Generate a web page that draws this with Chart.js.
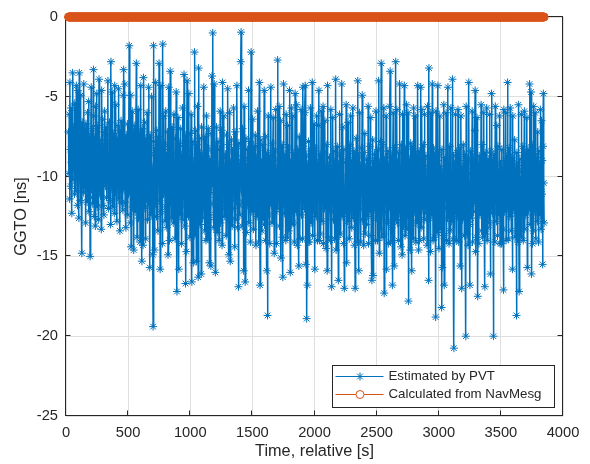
<!DOCTYPE html>
<html>
<head>
<meta charset="utf-8">
<title>GGTO</title>
<script src="https://cdn.jsdelivr.net/npm/chart.js@4.4.1/dist/chart.umd.min.js"></script>
<style>
    html, body { margin: 0; padding: 0; background: #fff; }
    #wrap { width: 590px; height: 464px; }
</style>
</head>
<body>
<div id="wrap"><canvas id="ggto" width="590" height="464"></canvas></div>
<script>
// Data (GGTO in ns, one sample every 3 s from t = 20 s)
const T_START = 20;
const T_STEP = 3;

const PVT_GGTO = [
    -7.2, -9.8, -6.1, -11.4, -4.1, -8.3, -10.6, -5.7, -9.1, -12.3, -7.9, -3.5, -10.2, -6.9, -8.7, -7.6, -11.1, -5.4, -9.5, -8.0,
    -10.9, -4.3, -8.4, -8.6, -11.8, -4.6, -9.2, -7.1, -12.6, -3.5, -9.7, -7.8, -11.5, -4.9, -10.3, -8.1, -14.8, -6.6, -9.0, -7.4,
    -11.0, -4.2, -9.4, -7.0, -10.7, -8.4, -12.9, -6.7, -9.9, -7.3, -11.6, -6.0, -8.9, -10.4, -5.3, -12.2, -7.5, -9.6, -15.0, -11.3,
    -8.2, -4.4, -10.8, -9.1, -7.0, -11.7, -9.3, -3.3, -6.2, -12.5, -9.0, -7.5, -13.1, -5.6, -10.5, -8.8, -4.8, -11.9, -8.5, -6.8,
    -12.7, -9.4, -3.9, -10.9, -7.7, -8.6, -11.2, -7.9, -13.3, -4.6, -9.1, -6.4, -10.1, -11.8, -8.3, -12.4, -7.2, -5.9, -9.6, -10.6,
    -8.1, -6.9, -11.3, -9.5, -7.4, -10.2, -4.0, -12.0, -8.7, -9.9, -6.6, -11.5, -7.8, -13.0, -2.8, -9.2, -10.7, -4.7, -8.4, -11.9,
    -7.3, -10.4, -9.0, -12.3, -4.3, -8.9, -11.0, -5.5, -9.7, -7.6, -12.8, -8.2, -10.1, -6.8, -4.5, -11.4, -9.3, -7.1, -13.4, -8.6,
    -10.3, -6.5, -9.2, -11.7, -7.9, -8.4, -12.1, -4.9, -3.3, -10.8, -9.0, -4.2, -11.6, -8.0, -13.2, -7.4, -9.8, -10.9, -6.7, -12.4,
    -8.8, -11.1, -7.5, -1.8, -10.6, -9.3, -12.9, -4.9, -14.4, -8.1, -10.7, -5.9, -11.9, -9.6, -7.2, -14.6, -8.7, -10.0, -6.8, -12.2,
    -9.4, -7.7, -2.9, -11.3, -13.8, -8.5, -10.2, -5.8, -12.6, -9.0, -7.3, -11.0, -14.1, -8.9, -4.3, -10.8, -9.7, -15.3, -7.0, -10.4,
    -14.3, -3.8, -9.1, -12.0, -6.6, -10.9, -8.3, -13.9, -7.6, -11.4, -9.8, -6.0, -12.7, -8.0, -10.5, -4.4, -11.8, -9.2, -15.7, -7.4,
    -10.1, -8.6, -12.4, -5.0, -11.2, -9.5, -14.9, -19.4, -1.8, -7.8, -10.6, -14.6, -8.2, -11.7, -4.1, -9.9, -12.5, -7.1, -10.3, -8.9,
    -13.4, -7.5, -10.0, -2.9, -11.5, -8.4, -15.8, -9.6, -4.3, -12.2, -10.8, -7.9, -14.2, -1.7, -9.3, -11.1, -6.2, -10.4, -8.0, -12.8,
    -9.0, -5.9, -11.9, -8.7, -13.2, -10.3, -7.2, -14.9, -9.4, -4.4, -10.9, -14.0, -8.3, -3.4, -11.6, -7.7, -12.6, -9.8, -6.9, -10.5,
    -8.5, -12.9, -10.2, -6.1, -11.4, -9.1, -13.9, -7.6, -10.7, -4.7, -12.0, -17.2, -8.8, -11.3, -6.3, -9.7, -15.8, -7.9, -10.1, -12.4,
    -9.3, -7.0, -11.8, -14.2, -8.6, -10.4, -5.7, -12.7, -9.5, -11.0, -3.6, -8.1, -13.1, -10.6, -16.7, -7.4, -14.7, -9.0, -4.0, -12.3,
    -10.8, -8.3, -12.5, -4.8, -11.2, -9.6, -13.8, -7.3, -10.0, -6.1, -12.1, -16.6, -8.9, -11.7, -7.8, -15.4, -9.2, -13.7, -2.2, -10.5,
    -7.1, -11.4, -9.8, -15.3, -8.0, -10.7, -5.6, -12.2, -16.3, -3.2, -9.5, -11.9, -7.6, -13.0, -10.3, -8.5, -16.1, -6.9, -11.1, -9.2,
    -12.6, -8.7, -10.5, -4.4, -11.8, -9.4, -13.4, -7.5, -10.9, -14.0, -6.2, -9.9, -11.5, -8.2, -13.9, -7.0, -10.2, -12.7, -15.4, -8.9,
    -11.0, -9.3, -15.6, -7.3, -10.6, -3.7, -8.4, -1.0, -11.7, -9.0, -13.2, -4.2, -10.3, -12.4, -16.0, -8.1, -11.3, -6.9, -9.7, -13.5,
    -10.1, -7.8, -12.2, -9.6, -14.0, -8.3, -11.0, -5.9, -12.9, -9.2, -10.8, -7.1, -14.3, -4.1, -11.6, -8.8, -10.4, -6.2, -12.5, -9.4,
    -11.9, -8.6, -10.0, -13.7, -7.4, -12.1, -9.8, -4.5, -11.2, -8.0, -14.9, -10.5, -6.0, -12.6, -15.3, -9.1, -11.4, -7.7, -10.7, -13.1,
    -8.4, -12.0, -9.5, -5.7, -11.1, -10.2, -14.4, -7.2, -9.9, -12.7, -8.7, -11.5, -4.3, -10.6, -13.2, -9.0, -16.9, -7.9, -11.8, -10.3,
    -12.4, -9.2, -2.8, -0.95, -10.9, -8.1, -13.1, -7.0, -11.6, -9.7, -15.9, -5.6, -10.4, -8.9, -16.6, -11.2, -7.6, -13.5, -9.4, -10.7,
    -8.3, -11.8, -10.1, -4.6, -12.9, -9.0, -11.3, -7.8, -14.1, -10.4, -2.2, -8.6, -12.2, -9.5, -6.4, -11.0, -13.3, -8.1, -10.8, -12.0,
    -9.3, -7.4, -11.7, -14.3, -8.8, -10.6, -12.5, -5.9, -11.1, -9.7, -14.1, -8.2, -4.1, -12.3, -16.8, -10.0, -7.7, -11.9, -9.1, -13.4,
    -10.5, -8.0, -12.7, -9.4, -11.3, -4.6, -13.0, -10.2, -7.5, -14.0, -9.8, -11.6, -15.9, -8.5, -18.7, -10.9, -6.2, -12.4, -9.0, -11.0,
    -14.2, -8.7, -10.3, -4.4, -11.8, -9.6, -12.9, -7.9, -10.7, -6.3, -11.4, -9.2, -14.8, -8.4, -10.0, -12.2, -5.8, -11.1, -14.2, -9.5,
    -10.6, -2.7, -12.0, -8.9, -11.5, -5.6, -13.1, -9.9, -10.8, -6.5, -15.1, -9.3, -11.2, -8.0, -13.8, -16.3, -10.1, -4.2, -11.7, -9.0,
    -12.3, -8.6, -10.4, -14.0, -6.1, -11.9, -9.7, -13.8, -6.8, -10.9, -8.2, -13.4, -11.0, -4.6, -10.2, -16.0, -9.1, -11.6, -5.7, -13.0,
    -9.4, -11.3, -6.2, -12.9, -10.0, -8.5, -14.1, -10.6, -4.8, -11.8, -9.0, -12.2, -5.5, -10.8, -14.3, -8.3, -11.4, -9.6, -15.6, -7.5,
    -10.7, -13.9, -8.8, -11.1, -5.8, -12.4, -9.3, -10.5, -13.9, -4.4, -8.1, -11.7, -9.8, -12.0, -6.0, -4.3, -10.9, -15.5, -8.7, -18.9,
    -11.5, -16.8, -9.2, -14.1, -7.8, -10.3, -14.1, -8.4, -11.9, -5.7, -10.0, -12.9, -9.5, -11.2, -4.1, -13.7, -10.6, -8.9, -12.1, -6.7,
    -10.4, -15.8, -8.2, -11.6, -9.9, -12.5, -6.2, -10.8, -14.0, -9.1, -11.3, -6.8, -4.6, -14.0, -10.1, -8.6, -13.6, -11.0, -5.9, -10.7,
    -12.8, -9.4, -11.4, -5.6, -14.2, -10.2, -8.5, -12.0, -6.5, -11.7, -9.6, -14.5, -10.5, -8.0, -15.9, -4.3, -11.1, -9.3, -13.8, -10.0,
    -8.8, -11.9, -10.3, -14.0, -5.8, -12.2, -16.9, -9.7, -11.0, -6.3, -10.6, -12.7, -8.4, -11.5, -13.9, -9.0, -10.8, -3.9, -14.6, -9.5,
    -11.2, -8.1, -13.8, -10.0, -16.5, -9.2, -12.0, -6.1, -10.9, -13.6, -8.6, -11.8, -9.9, -4.2, -12.5, -10.4, -6.9, -11.3, -14.2, -8.3,
    -17.0, -10.7, -12.3, -9.1, -11.6, -5.5, -15.4, -10.2, -8.9, -12.8, -6.6, -11.4, -9.4, -13.9, -10.5, -8.0, -12.1, -6.2, -11.0, -9.7,
    -13.2, -9.0, -11.5, -5.7, -12.6, -10.3, -8.4, -14.3, -10.8, -17.0, -9.6, -11.9, -7.6, -12.4, -10.0, -14.1, -4.0, -11.2, -8.7, -15.9,
    -10.4, -6.0, -12.0, -9.3, -14.1, -11.1, -8.2, -10.6, -4.9, -12.7, -9.8, -11.6, -14.3, -8.5, -10.9, -7.3, -13.6, -9.5, -11.4, -13.0,
    -8.9, -11.8, -10.1, -12.5, -5.6, -14.2, -9.2, -11.0, -8.1, -12.2, -10.5, -6.3, -13.7, -9.6, -16.5, -11.3, -7.7, -16.2, -10.2, -9.0,
    -12.1, -8.6, -11.5, -9.9, -14.0, -5.9, -10.7, -12.6, -9.4, -14.0, -8.3, -11.2, -4.0, -10.8, -14.8, -9.1, -11.7, -7.8, -13.3, -2.9,
    -10.3, -13.8, -8.0, -11.0, -9.5, -13.6, -5.7, -17.3, -10.9, -12.2, -8.8, -11.6, -6.2, -15.8, -9.7, -10.6, -12.8, -8.4, -11.3, -14.2,
    -9.2, -11.9, -5.6, -3.4, -14.1, -10.1, -8.7, -13.2, -11.4, -16.8, -9.8, -6.0, -12.0, -10.4, -15.6, -8.2, -11.1, -9.4, -2.8, -12.7,
    -10.0, -5.8, -12.9, -9.1, -11.3, -14.0, -8.5, -10.7, -4.2, -12.3, -9.6, -11.8, -14.4, -8.0, -10.3, -14.9, -6.1, -11.5, -9.3, -13.1,
    -11.0, -4.3, -9.7, -13.7, -8.3, -10.9, -13.3, -5.5, -11.6, -9.0, -12.4, -6.0, -17.8, -10.2, -8.9, -12.0, -10.6, -14.6, -7.9, -11.2,
    -9.5, -15.9, -8.1, -11.4, -10.0, -13.9, -5.7, -10.8, -12.2, -9.2, -6.2, -11.7, -14.1, -8.6, -10.5, -12.9, -9.8, -4.3, -11.1, -14.6,
    -10.3, -8.4, -14.0, -9.9, -11.8, -4.4, -13.2, -10.6, -5.8, -12.0, -9.3, -11.3, -8.0, -13.9, -10.1, -6.1, -12.7, -9.6, -11.5, -8.7,
    -12.3, -10.0, -14.3, -5.6, -11.0, -9.4, -16.5, -3.2, -12.6, -8.9, -10.7, -14.7, -6.0, -11.9, -9.1, -12.4, -4.2, -10.4, -14.0, -8.2,
    -11.6, -9.7, -13.8, -8.5, -10.9, -18.8, -5.9, -12.1, -10.2, -13.5, -9.0, -4.3, -11.3, -8.6, -14.5, -10.6, -6.2, -13.3, -9.5, -11.7,
    -10.1, -18.2, -8.3, -15.7, -9.8, -11.1, -13.7, -5.5, -16.8, -10.5, -12.0, -8.8, -11.4, -6.0, -14.0, -9.3, -10.8, -12.6, -4.4, -11.9,
    -9.6, -14.2, -10.4, -8.1, -13.4, -11.0, -5.7, -12.8, -9.9, -11.5, -3.9, -10.7, -13.9, -8.7, -20.75, -12.3, -9.2, -11.8, -6.1, -10.3,
    -14.0, -8.5, -11.2, -9.7, -12.5, -5.8, -10.9, -14.1, -9.0, -11.6, -8.2, -15.6, -10.0, -6.2, -11.3, -17.0, -9.4, -12.7, -10.6, -8.0,
    -11.9, -10.2, -13.7, -8.6, -12.1, -9.5, -20.0, -5.6, -11.4, -10.8, -13.6, -8.9, -14.3, -9.8, -4.1, -11.1, -13.0, -16.8, -10.4, -8.4,
    -12.6, -9.1, -11.7, -5.9, -14.1, -10.3, -8.8, -12.2, -10.0, -11.5, -7.1, -4.6, -14.7, -9.6, -11.0, -13.8, -6.3, -10.7, -17.5, -9.3,
    -11.3, -14.2, -8.7, -10.5, -12.4, -9.2, -11.9, -5.5, -13.4, -10.1, -8.0, -13.8, -9.7, -11.2, -6.0, -12.0, -10.8, -16.9, -8.5, -13.6,
    -9.9, -11.6, -5.7, -14.0, -10.4, -13.2, -8.9, -11.1, -9.4, -12.9, -6.1, -10.7, -16.1, -8.4, -11.8, -4.8, -10.0, -12.3, -9.0, -11.4,
    -20.0, -8.6, -12.1, -10.3, -14.1, -5.6, -11.0, -9.5, -12.8, -6.8, -10.9, -13.7, -8.1, -11.7, -9.8, -12.4, -6.2, -10.6, -14.2, -9.2,
    -11.5, -10.1, -14.2, -8.3, -11.2, -9.6, -13.3, -17.1, -5.8, -10.8, -12.2, -9.0, -11.8, -6.0, -14.0, -10.4, -8.7, -12.0, -4.1, -9.4,
    -11.1, -13.9, -8.2, -10.6, -12.5, -5.7, -11.7, -9.9, -13.4, -8.8, -10.2, -15.8, -6.2, -11.3, -9.1, -12.1, -10.5, -7.7, -13.8, -9.6,
    -10.8, -12.3, -18.7, -8.5, -11.6, -9.3, -14.1, -5.5, -10.1, -17.2, -12.6, -8.9, -11.4, -10.3, -13.8, -6.1, -9.7, -12.0, -11.0, -8.1,
    -14.0, -9.5, -11.2, -5.9, -13.3, -10.7, -8.6, -12.4, -9.0, -11.8, -6.3, -15.7, -10.2, -8.3, -12.1, -9.8, -11.5, -4.2, -10.9, -13.0,
    -9.2, -4.7, -16.1, -11.1, -8.0, -14.2, -10.4, -13.4, -5.6, -11.9, -9.6, -12.2, -6.0, -10.5, -13.9, -8.8, -11.3, -9.9, -12.8, -7.2,
    -10.6, -14.1, -8.4, -11.7, -9.3, -12.4, -5.8, -10.8, -13.3, -6.5, -11.1, -9.0, -15.5, -8.1, -4.8, -10.4, -12.9
];

// NavMesg value is exactly 0 ns over the whole run
const NAVMSG_GGTO = PVT_GGTO.map(() => 0);

const X_TICKS = [0, 500, 1000, 1500, 2000, 2500, 3000, 3500, 4000];
const Y_TICKS = [0, -5, -10, -15, -20, -25];

const SERIES_LABELS = ['Estimated by PVT', 'Calculated from NavMesg'];
const X_TITLE = 'Time, relative [s]';
const Y_TITLE = 'GGTO [ns]';

const BLUE = '#0072BD';
const ORANGE = '#D95319';
const AXIS_COLOR = '#262626';
const FONT = "'Liberation Sans', Arial, Helvetica, sans-serif";

const toPoints = vals => vals.map((v, i) => ({ x: T_START + i * T_STEP, y: v }));

// Cadre + graduations vers l'intérieur (style MATLAB)
const boxPlugin = {
    id: 'box',
    beforeDatasetsDraw(chart) {
        const { ctx, chartArea: a, scales } = chart;
        const L = Math.round(a.left) - 0.5, R = Math.round(a.right) - 0.5;
        const T = Math.round(a.top) - 0.5, B = Math.round(a.bottom) - 0.5;
        ctx.save();
        ctx.strokeStyle = AXIS_COLOR;
        ctx.lineWidth = 1;
        ctx.strokeRect(L, T, R - L, B - T);
        ctx.beginPath();
        X_TICKS.forEach(v => {
            const px = Math.round(scales.x.getPixelForValue(v)) - 0.5;
            ctx.moveTo(px, B); ctx.lineTo(px, B - 5);
            ctx.moveTo(px, T); ctx.lineTo(px, T + 5);
        });
        Y_TICKS.forEach(v => {
            const py = Math.round(scales.y.getPixelForValue(v)) - 0.5;
            ctx.moveTo(L, py); ctx.lineTo(L + 5, py);
            ctx.moveTo(R, py); ctx.lineTo(R - 5, py);
        });
        ctx.stroke();
        ctx.restore();
    },
    afterDraw(chart) {
        const { ctx, chartArea: a } = chart;
        ctx.save();
        ctx.fillStyle = AXIS_COLOR;
        ctx.font = '16.3px ' + FONT;
        ctx.textAlign = 'center';
        ctx.textBaseline = 'middle';
        ctx.fillText(X_TITLE, (a.left + a.right) / 2, 452);
        ctx.translate(22, (a.top + a.bottom) / 2);
        ctx.rotate(-Math.PI / 2);
        ctx.fillText(Y_TITLE, 0, 0);
        ctx.restore();
    }
};

// Légende dessinée à la main dans le coin bas-droit
const legendPlugin = {
    id: 'cornerLegend',
    afterDraw(chart) {
        const { ctx, chartArea: a } = chart;
        const w = 222, h = 42;
        const x0 = Math.round(a.right) - 9 - w + 0.5;
        const y0 = Math.round(a.bottom) - 9 - h + 0.5;
        ctx.save();
        ctx.fillStyle = '#fff';
        ctx.fillRect(x0, y0, w, h);
        ctx.strokeStyle = AXIS_COLOR;
        ctx.lineWidth = 1;
        ctx.strokeRect(x0, y0, w, h);

        const rows = [y0 + 11, y0 + 29];
        const lx1 = x0 + 3, lx2 = x0 + 51, mx = x0 + 27.5;

        // PVT : trait + étoile
        ctx.strokeStyle = BLUE;
        ctx.beginPath();
        ctx.moveTo(lx1, rows[0]); ctx.lineTo(lx2, rows[0]);
        const r = 4, d = r * Math.SQRT1_2;
        ctx.moveTo(mx - r, rows[0]); ctx.lineTo(mx + r, rows[0]);
        ctx.moveTo(mx, rows[0] - r); ctx.lineTo(mx, rows[0] + r);
        ctx.moveTo(mx - d, rows[0] - d); ctx.lineTo(mx + d, rows[0] + d);
        ctx.moveTo(mx - d, rows[0] + d); ctx.lineTo(mx + d, rows[0] - d);
        ctx.stroke();

        // NavMesg : trait + cercle
        ctx.strokeStyle = ORANGE;
        ctx.beginPath();
        ctx.moveTo(lx1, rows[1]); ctx.lineTo(mx - 4, rows[1]);
        ctx.moveTo(mx + 4, rows[1]); ctx.lineTo(lx2, rows[1]);
        ctx.stroke();
        ctx.beginPath();
        ctx.arc(mx, rows[1], 4, 0, Math.PI * 2);
        ctx.stroke();

        ctx.fillStyle = AXIS_COLOR;
        ctx.font = '13.3px ' + FONT;
        ctx.textAlign = 'left';
        ctx.textBaseline = 'middle';
        SERIES_LABELS.forEach((txt, i) => ctx.fillText(txt, x0 + 56, rows[i]));
        ctx.restore();
    }
};

const tickFont = { family: FONT, size: 14.7 };
const plainLabel = v => String(v);

new Chart(document.getElementById('ggto'), {
    type: 'line',
    data: {
        datasets: [
            {
                label: SERIES_LABELS[0],
                data: toPoints(PVT_GGTO),
                borderColor: BLUE,
                backgroundColor: BLUE,
                borderWidth: 1.5,
                pointStyle: 'star',
                pointRadius: 4,
                pointBorderWidth: 1,
                pointBorderColor: BLUE,
                tension: 0,
                clip: false
            },
            {
                label: SERIES_LABELS[1],
                data: toPoints(NAVMSG_GGTO),
                borderColor: ORANGE,
                backgroundColor: 'rgba(0,0,0,0)',
                borderWidth: 1,
                pointStyle: 'circle',
                pointRadius: 4,
                pointBorderWidth: 1,
                pointBorderColor: ORANGE,
                pointBackgroundColor: 'rgba(0,0,0,0)',
                tension: 0,
                clip: false
            }
        ]
    },
    options: {
        responsive: false,
        animation: false,
        devicePixelRatio: 1,
        layout: { padding: { left: 0, right: 27, top: 17, bottom: 0 } },
        plugins: {
            legend: { display: false },
            tooltip: { enabled: false }
        },
        scales: {
            x: {
                type: 'linear',
                min: 0,
                max: 4000,
                afterBuildTicks: s => { s.ticks = X_TICKS.map(v => ({ value: v })); },
                afterFit: s => { s.height = 48; },
                grid: { color: '#dfdfdf', lineWidth: 1, drawTicks: false },
                border: { display: false },
                ticks: { padding: 8, color: AXIS_COLOR, font: tickFont, maxRotation: 0, autoSkip: false, callback: plainLabel }
            },
            y: {
                type: 'linear',
                min: -25,
                max: 0,
                afterBuildTicks: s => { s.ticks = Y_TICKS.map(v => ({ value: v })); },
                afterFit: s => { s.width = 66; },
                grid: { color: '#dfdfdf', lineWidth: 1, drawTicks: false },
                border: { display: false },
                ticks: { padding: 8, color: AXIS_COLOR, font: tickFont, autoSkip: false, callback: plainLabel }
            }
        }
    },
    plugins: [boxPlugin, legendPlugin]
});
</script>
</body>
</html>
